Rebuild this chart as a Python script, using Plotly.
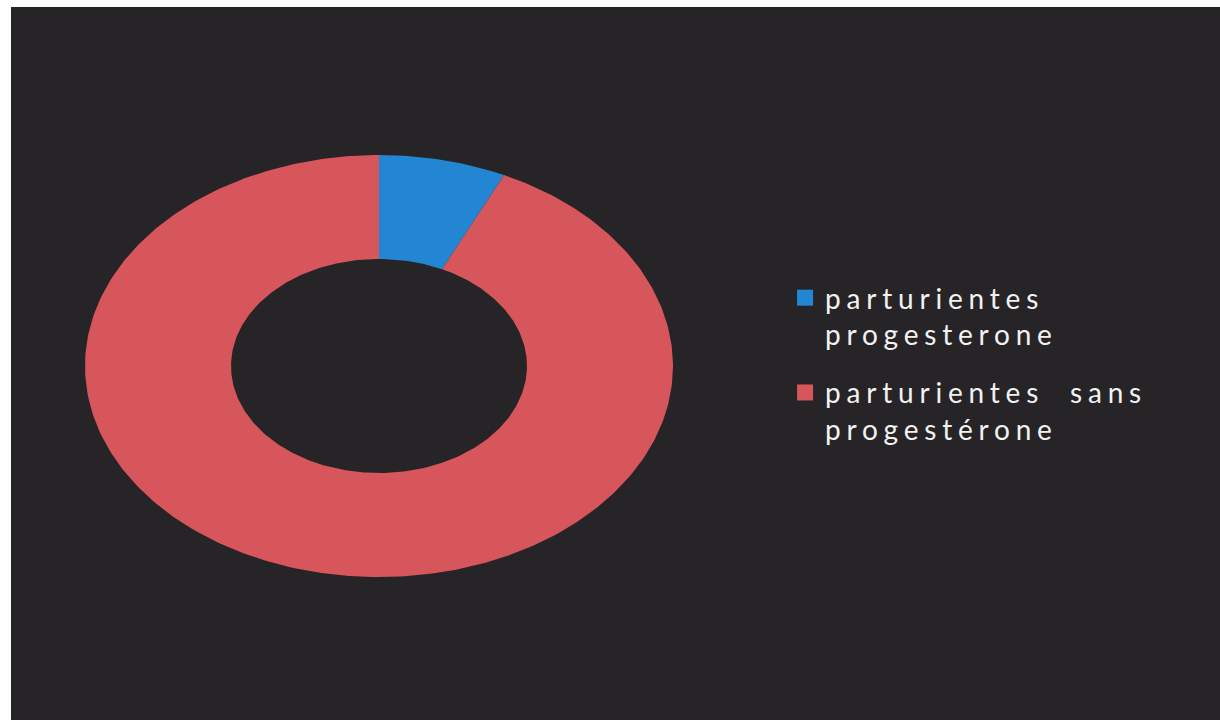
import numpy as np
import plotly.graph_objects as go

# Data
categories = ["parturientes<br>progesterone", "parturientes  sans<br>progestérone"]
values = [7, 93]
colors = ["#2386d2", "#d6565c"]

# Canvas geometry (pixel space)
W, H = 1220, 726
cx, cy = 379, 366          # donut centre
rx_out, ry_out = 294, 211  # outer ellipse radii
rx_in, ry_in = 148, 107    # inner ellipse radii

fig = go.Figure()

total = float(sum(values))
start = 0.0
for name, v, col in zip(categories, values, colors):
    frac = v / total
    t = np.linspace(start, start + frac, max(int(frac * 400), 8)) * 2 * np.pi
    xo = cx + rx_out * np.sin(t)
    yo = cy - ry_out * np.cos(t)
    xi = cx + rx_in * np.sin(t[::-1])
    yi = cy - ry_in * np.cos(t[::-1])
    xs = np.concatenate([xo, xi, xo[:1]])
    ys = np.concatenate([yo, yi, yo[:1]])
    fig.add_trace(go.Scatter(
        x=xs, y=ys, mode="lines", fill="toself", fillcolor=col,
        line=dict(width=0, color=col), name=name, showlegend=False,
        hoverinfo="name",
    ))
    start += frac

# Legend entries with square swatches
for i, (name, col) in enumerate(zip(categories, colors)):
    fig.add_trace(go.Scatter(
        x=[None], y=[None], mode="markers", name=name, legendgroup=f"g{i}",
        marker=dict(symbol="square", size=16, color=col),
        showlegend=True,
    ))

fig.update_layout(
    width=W, height=H,
    margin=dict(l=0, r=0, t=0, b=0),
    paper_bgcolor="white",
    plot_bgcolor="white",
    xaxis=dict(range=[0, W], visible=False, fixedrange=True),
    yaxis=dict(range=[H, 0], visible=False, fixedrange=True),
    shapes=[dict(type="rect", xref="x", yref="y", x0=11, y0=7, x1=W, y1=720,
                 fillcolor="#262427", line=dict(width=0), layer="below")],
    legend=dict(
        x=0.6435, y=0.624, xanchor="left", yanchor="top",
        bgcolor="rgba(0,0,0,0)", valign="top",
        font=dict(family="Lato, Open Sans, sans-serif", size=28, color="#f2f2f2"),
        tracegroupgap=19, itemsizing="trace",
    ),
    showlegend=True,
)

# Widen the legend lettering and let the wider text overflow the legend box
spacing_js = (
    "document.querySelectorAll('.legendtext').forEach(function(e){"
    "e.style.letterSpacing='5.8px';});"
    "document.querySelectorAll('.legend, .legend [clip-path]').forEach(function(e){"
    "e.removeAttribute('clip-path');});"
)

fig.write_html("out.html", post_script=spacing_js)
